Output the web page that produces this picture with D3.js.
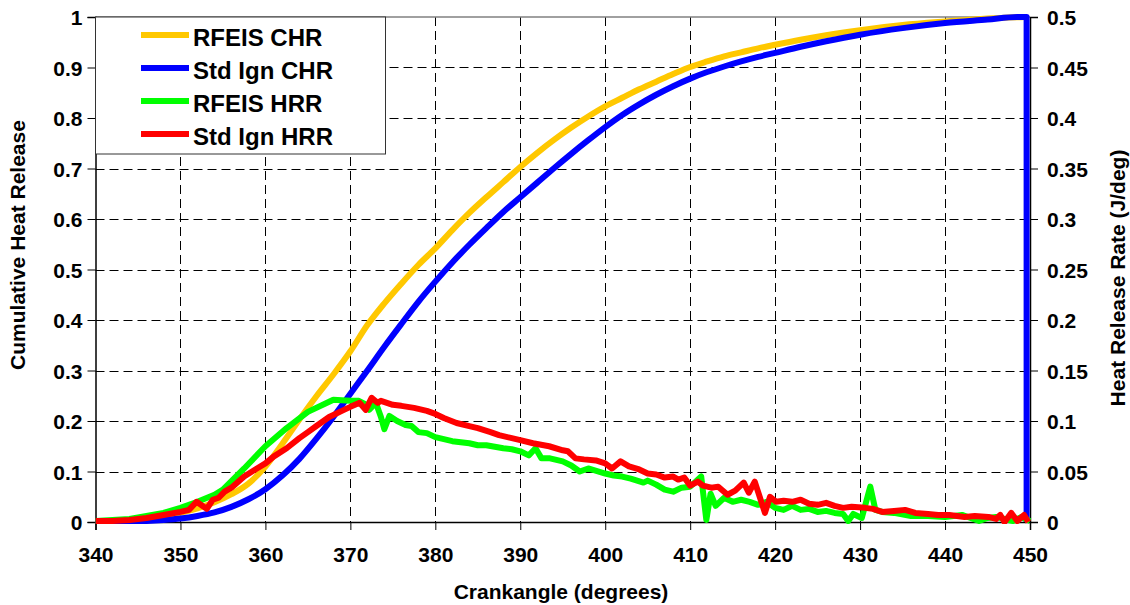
<!DOCTYPE html>
<html>
<head>
<meta charset="utf-8">
<script src="https://cdn.jsdelivr.net/npm/d3@7"></script>
<style>
  html, body { margin: 0; padding: 0; background: #fff; }
  svg { display: block; }
  text { font-family: "Liberation Sans", Arial, Helvetica, sans-serif; font-weight: bold; fill: #000; }
</style>
</head>
<body>
<svg id="chart" width="1130" height="605"></svg>
<script>
// Crank angle ticks and axis tick labels
const xTicks = [340, 350, 360, 370, 380, 390, 400, 410, 420, 430, 440, 450];
const leftTicks = [0, 0.1, 0.2, 0.3, 0.4, 0.5, 0.6, 0.7, 0.8, 0.9, 1];
const rightTicks = [0, 0.05, 0.1, 0.15, 0.2, 0.25, 0.3, 0.35, 0.4, 0.45, 0.5];
const leftTickLabels = ["0", "0.1", "0.2", "0.3", "0.4", "0.5", "0.6", "0.7", "0.8", "0.9", "1"];
const rightTickLabels = ["0", "0.05", "0.1", "0.15", "0.2", "0.25", "0.3", "0.35", "0.4", "0.45", "0.5"];

// Series names
const seriesNames = ["RFEIS CHR", "Std Ign CHR", "RFEIS HRR", "Std Ign HRR"];

// RFEIS cumulative heat release (fraction)
const rfeisChrAngle = [340, 342, 344, 346, 348, 350, 352, 354, 356, 358, 360, 362, 364, 366, 368, 370, 372, 374, 376, 378, 380, 382, 384, 386, 388, 390, 392, 394, 396, 398, 400, 402, 404, 406, 408, 410, 412, 414, 416, 418, 420, 423, 426, 430, 435, 440, 445, 449.5];
const rfeisChr = [0, 0.001, 0.003, 0.006, 0.011, 0.018, 0.027, 0.039, 0.055, 0.076, 0.11, 0.155, 0.203, 0.249, 0.292, 0.338, 0.39, 0.433, 0.472, 0.509, 0.542, 0.578, 0.612, 0.643, 0.673, 0.703, 0.731, 0.757, 0.781, 0.803, 0.823, 0.84, 0.857, 0.872, 0.887, 0.901, 0.912, 0.922, 0.93, 0.938, 0.945, 0.955, 0.964, 0.974, 0.984, 0.991, 0.997, 1.0];

// Standard ignition cumulative heat release (fraction); ends with the drop back to zero
const stdChrAngle = [340, 342, 344, 346, 348, 350, 352, 354, 356, 358, 360, 362, 364, 366, 368, 370, 372, 374, 376, 378, 380, 382, 384, 386, 388, 390, 392, 394, 396, 398, 400, 402, 404, 406, 408, 410, 412, 414, 416, 418, 420, 423, 426, 430, 435, 440, 445, 448.5, 449.6, 449.6];
const stdChr = [0, 0, 0.001, 0.002, 0.004, 0.007, 0.012, 0.019, 0.03, 0.045, 0.065, 0.092, 0.125, 0.165, 0.208, 0.254, 0.3, 0.347, 0.392, 0.436, 0.476, 0.514, 0.549, 0.582, 0.614, 0.643, 0.672, 0.701, 0.729, 0.756, 0.782, 0.806, 0.827, 0.846, 0.863, 0.878, 0.891, 0.902, 0.912, 0.921, 0.929, 0.941, 0.952, 0.965, 0.978, 0.988, 0.995, 1.0, 1.0, 0];

// RFEIS heat release rate (J/deg)
const rfeisHrrAngle = [340, 342, 344, 346, 348, 350, 352, 354, 355, 357.5, 360, 362.5, 365, 367.5, 368, 370, 371, 371.7, 372.2, 373, 373.6, 374, 374.6, 375.5, 376.5, 377.2, 378, 379, 380, 382, 384, 385, 386, 388, 389, 390, 391, 391.8, 392.5, 393.5, 395, 396, 397, 398, 400, 401, 402, 403, 404.5, 405, 406, 407, 408, 409, 410, 411.3, 411.9, 412.4, 413, 414, 415, 416, 417, 418, 419, 420, 421, 422, 423, 424, 425, 426, 427, 428, 428.6, 429.2, 430.2, 431.2, 431.8, 432.6, 434, 436, 438, 440, 442, 443, 444, 445, 446, 447, 448, 449, 450];
const rfeisHrr = [0.001, 0.002, 0.003, 0.006, 0.009, 0.014, 0.02, 0.027, 0.032, 0.053, 0.075, 0.093, 0.109, 0.119, 0.121, 0.12, 0.12, 0.117, 0.111, 0.118, 0.104, 0.092, 0.105, 0.1, 0.096, 0.095, 0.089, 0.088, 0.084, 0.08, 0.078, 0.076, 0.076, 0.073, 0.072, 0.07, 0.066, 0.073, 0.063, 0.063, 0.06, 0.056, 0.05, 0.053, 0.048, 0.046, 0.045, 0.043, 0.039, 0.041, 0.037, 0.032, 0.03, 0.034, 0.035, 0.045, 0.002, 0.028, 0.016, 0.024, 0.02, 0.022, 0.02, 0.017, 0.02, 0.014, 0.012, 0.016, 0.012, 0.013, 0.01, 0.011, 0.009, 0.008, 0.001, 0.008, 0.004, 0.035, 0.012, 0.01, 0.009, 0.006, 0.006, 0.005, 0.007, 0.004, 0.001, 0.004, 0.005, 0.003, 0.001, 0.005, 0.001];

// Standard ignition heat release rate (J/deg)
const stdHrrAngle = [340, 342, 344, 346, 348, 350, 351, 351.9, 353.1, 353.8, 354.5, 355.2, 356, 357.5, 359, 360, 361, 362.5, 364, 365, 366, 367.5, 369, 370, 371.1, 371.8, 372.5, 373.2, 373.6, 375, 376, 377.5, 379, 380, 381, 382.5, 384, 385, 386.5, 387.5, 389, 390, 391.5, 393.4, 395, 395.6, 396.5, 397.5, 398.9, 400, 400.8, 401.8, 402.8, 404, 405, 406, 407, 408, 408.6, 409.3, 410, 410.9, 411.5, 412.5, 413.3, 414.4, 415.3, 416.3, 416.9, 417.6, 418.8, 419.4, 420.1, 421, 422, 423, 424, 425, 426, 427, 428, 429, 430.6, 431.5, 432.6, 434, 435.3, 436.5, 438, 439.2, 440.5, 442.3, 443.5, 445.1, 446, 446.5, 447, 447.8, 448.5, 449.3, 449.8];
const stdHrr = [0.001, 0.001, 0.002, 0.004, 0.007, 0.01, 0.012, 0.02, 0.013, 0.022, 0.024, 0.03, 0.034, 0.045, 0.053, 0.058, 0.065, 0.073, 0.083, 0.089, 0.095, 0.104, 0.11, 0.114, 0.118, 0.111, 0.123, 0.118, 0.12, 0.116, 0.115, 0.113, 0.11, 0.107, 0.103, 0.098, 0.095, 0.093, 0.089, 0.086, 0.083, 0.081, 0.078, 0.075, 0.071, 0.07, 0.063, 0.062, 0.061, 0.058, 0.053, 0.06, 0.055, 0.052, 0.048, 0.047, 0.044, 0.045, 0.042, 0.044, 0.036, 0.04, 0.036, 0.034, 0.035, 0.027, 0.031, 0.039, 0.029, 0.04, 0.009, 0.025, 0.02, 0.021, 0.02, 0.022, 0.018, 0.017, 0.019, 0.016, 0.014, 0.015, 0.014, 0.013, 0.01, 0.011, 0.012, 0.009, 0.008, 0.007, 0.007, 0.005, 0.006, 0.005, 0.003, 0.007, 0, 0.009, 0.001, 0.007, 0];

const colors = ["#FFC800", "#0000FF", "#00FF00", "#FF0000"];

const svg = d3.select("#chart");
const margin = { left: 95.5, right: 1030, top: 17, bottom: 522 };

const x = d3.scaleLinear().domain([340, 450]).range([margin.left, margin.right]);
const yL = d3.scaleLinear().domain([0, 1]).range([margin.bottom, margin.top]);
const yR = d3.scaleLinear().domain([0, 0.5]).range([margin.bottom, margin.top]);

// Dashed grid
const grid = svg.append("g").attr("stroke", "#000").attr("stroke-width", 1).attr("stroke-dasharray", "9,5");
grid.selectAll("line.h").data(leftTicks.filter(d => d > 0 && d < 1)).join("line")
  .attr("x1", margin.left).attr("x2", margin.right)
  .attr("y1", d => Math.round(yL(d)) + 0.5).attr("y2", d => Math.round(yL(d)) + 0.5);
grid.selectAll("line.v").data(xTicks.filter(d => d > 340 && d < 450)).join("line")
  .attr("y1", margin.top).attr("y2", margin.bottom)
  .attr("x1", d => Math.round(x(d)) + 0.5).attr("x2", d => Math.round(x(d)) + 0.5);

// Plot frame (top edge)
svg.append("line").attr("x1", margin.left).attr("x2", margin.right)
  .attr("y1", margin.top).attr("y2", margin.top).attr("stroke", "#808080").attr("stroke-width", 1.5);

// Axes
const fmtL = d => leftTickLabels[leftTicks.indexOf(d)];
const fmtR = d => rightTickLabels[rightTicks.indexOf(d)];

const axB = svg.append("g").attr("transform", `translate(0,${margin.bottom})`)
  .call(d3.axisBottom(x).tickValues(xTicks).tickSize(8).tickPadding(17).tickFormat(d3.format("d")));
const axL = svg.append("g").attr("transform", `translate(${margin.left},0)`)
  .call(d3.axisLeft(yL).tickValues(leftTicks).tickSize(8).tickPadding(5).tickFormat(fmtL));
const axR = svg.append("g").attr("transform", `translate(${margin.right},0)`)
  .call(d3.axisRight(yR).tickValues(rightTicks).tickSize(8).tickPadding(9).tickFormat(fmtR));

[axB, axL, axR].forEach(a => {
  a.select(".domain").attr("stroke", "#000").attr("stroke-width", 1.5);
  a.selectAll(".tick line").attr("stroke", "#000").attr("stroke-width", 1);
  a.selectAll(".tick text").attr("font-size", 21).attr("font-family", '"Liberation Sans", Arial, sans-serif').attr("font-weight", "bold").attr("fill", "#000");
});
axL.selectAll(".tick text").attr("dy", "0.36em");
axR.selectAll(".tick text").attr("dy", "0.36em");
axB.selectAll(".tick text").attr("dy", "0.71em");

// Series lines
const clipId = "plotClip";
svg.append("clipPath").attr("id", clipId).append("rect")
  .attr("x", margin.left).attr("y", margin.top - 4)
  .attr("width", margin.right - margin.left + 1).attr("height", margin.bottom - margin.top + 6);

const plot = svg.append("g").attr("clip-path", `url(#${clipId})`);

const series = [
  { ang: rfeisChrAngle, val: rfeisChr, y: yL, smooth: true },
  { ang: stdChrAngle, val: stdChr, y: yL, smooth: true },
  { ang: rfeisHrrAngle, val: rfeisHrr, y: yR, smooth: false },
  { ang: stdHrrAngle, val: stdHrr, y: yR, smooth: false }
];

series.forEach((s, i) => {
  const pts = s.ang.map((a, k) => [x(a), s.y(s.val[k])]);
  let d;
  if (s.smooth) {
    // smooth run while the angle increases, then straight segments for any tail (e.g. the drop)
    let n = 1;
    while (n < s.ang.length && s.ang[n] > s.ang[n - 1]) n++;
    const head = pts.slice(0, n);
    const tail = pts.slice(n - 1);
    d = d3.line().curve(d3.curveMonotoneX)(head);
    if (tail.length > 1) d += d3.line()(tail).replace(/^M[^L]*/, "");
  } else {
    d = d3.line()(pts);
  }
  plot.append("path")
    .attr("d", d)
    .attr("fill", "none")
    .attr("stroke", colors[i])
    .attr("stroke-width", 6)
    .attr("stroke-linejoin", "round")
    .attr("stroke-linecap", "butt");
});

// Legend
const lg = svg.append("g");
lg.append("rect").attr("x", margin.left).attr("y", margin.top)
  .attr("width", 290).attr("height", 137)
  .attr("fill", "#fff").attr("stroke", "#333").attr("stroke-width", 1);
const rowY = [35, 68, 101, 134];
seriesNames.forEach((name, i) => {
  lg.append("line").attr("x1", 141).attr("x2", 189)
    .attr("y1", rowY[i]).attr("y2", rowY[i])
    .attr("stroke", colors[i]).attr("stroke-width", 6);
  lg.append("text").attr("x", 193).attr("y", rowY[i] + 10.5)
    .attr("font-size", 24).text(name);
});

// Axis titles
svg.append("text").attr("text-anchor", "middle")
  .attr("transform", `translate(25,245) rotate(-90)`)
  .attr("font-size", 21).text("Cumulative Heat Release");
svg.append("text").attr("text-anchor", "middle")
  .attr("transform", `translate(1125,278) rotate(-90)`)
  .attr("font-size", 21).text("Heat Release Rate (J/deg)");
svg.append("text").attr("text-anchor", "middle")
  .attr("x", 561).attr("y", 599)
  .attr("font-size", 21).text("Crankangle (degrees)");
</script>
</body>
</html>
